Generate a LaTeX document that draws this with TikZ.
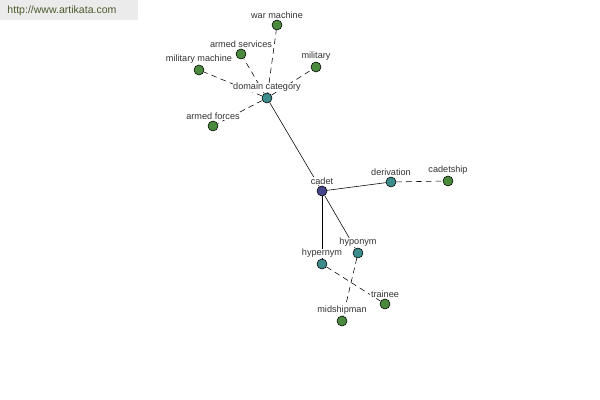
\documentclass[tikz,border=0pt]{standalone}
\usepackage{fontspec}
\setmainfont{Liberation Sans}
\usepackage{xcolor}
\usetikzlibrary{backgrounds}

\definecolor{rootblue}{HTML}{46478A}
\definecolor{relteal}{HTML}{3C8C8C}
\definecolor{wordgreen}{HTML}{4A8A3C}
\definecolor{markgreen}{HTML}{4C5A2E}

\begin{document}
\begin{tikzpicture}[
            x=0.025cm, y=-0.025cm,
            dot/.style={circle, draw=black, thin, minimum size=0.25cm, inner sep=0pt,
                        label={[lbl]above:#1}},
            root/.style={dot=#1, fill=rootblue},
            rel/.style={dot=#1, fill=relteal},
            word/.style={dot=#1, fill=wordgreen},
            lbl/.style={font=\fontsize{6.5}{7}\selectfont, text=black!80, fill=white,
                        inner sep=0.4pt, label distance=0.2pt},
            link/.style={thin},
            weak/.style={thin, dash pattern=on 4pt off 3pt}
        ]
            \useasboundingbox (0,0) rectangle (600,400);
            \fill[black!8] (0,0) rectangle (138,20);
            \node[font=\fontsize{7.5}{8}\selectfont, text=markgreen] (site) at (62,11) {http://www.artikata.com};

            \node[root=cadet] (cadet) at (322,191) {};
            \node[rel=domain category] (domain) at (267,98) {};
            \node[rel=derivation] (deriv) at (391,182) {};
            \node[rel=hypernym] (hyper) at (322,264) {};
            \node[rel=hyponym] (hypo) at (358,253) {};

            \node[word=war machine] (warmach) at (277,25) {};
            \node[word=armed services] (armserv) at (241,54) {};
            \node[word=military machine] (milmach) at (199,70) {};
            \node[word=military] (military) at (316,67) {};
            \node[word=armed forces] (armforc) at (213,126) {};
            \node[word=cadetship] (cadship) at (448,181) {};
            \node[word=trainee] (trainee) at (385,304) {};
            \node[word=midshipman] (midship) at (342,321) {};

            \begin{scope}[on background layer]
                \draw[link] (cadet) -- (domain);
                \draw[link] (cadet) -- (deriv);
                \draw[link] (cadet) -- (hyper);
                \draw[link] (cadet) -- (hypo);
                \foreach \w in {warmach, armserv, milmach, military, armforc}
                    \draw[weak] (domain) -- (\w);
                \draw[weak] (deriv) -- (cadship);
                \draw[weak] (hyper) -- (trainee);
                \draw[weak] (hypo) -- (midship);
            \end{scope}
        \end{tikzpicture}
\end{document}
